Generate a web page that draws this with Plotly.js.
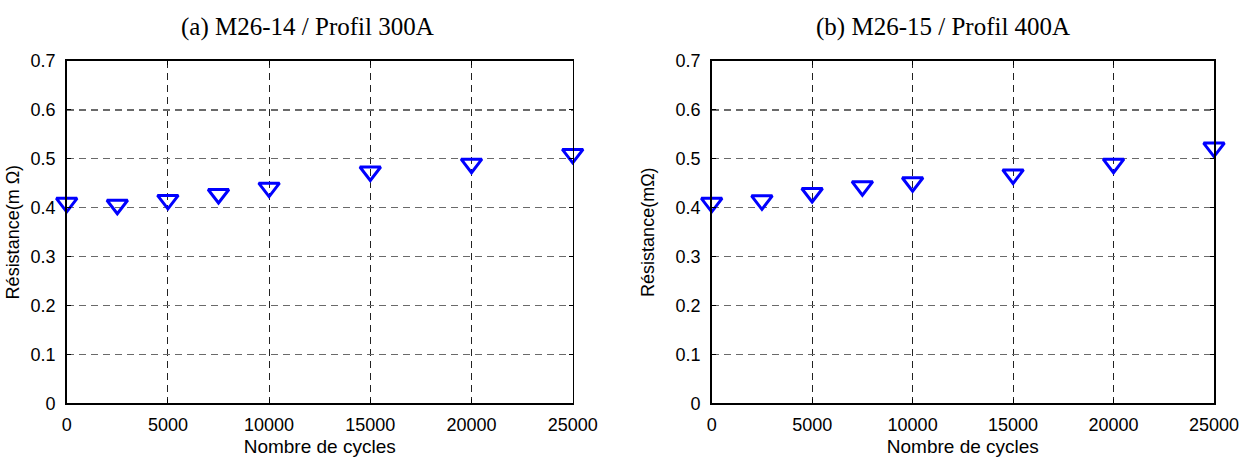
<!DOCTYPE html>
<html>
<head>
<meta charset="utf-8">
<script src="https://cdn.plot.ly/plotly-3.0.1.min.js"></script>
<style>html,body{margin:0;padding:0;background:#fff;}#chart{width:1245px;height:457px;}</style>
</head>
<body>
<div id="chart"></div>
<script>
// Data
const cycles = [0, 2500, 5000, 7500, 10000, 15000, 20000, 25000];
const resistanceA = [0.410, 0.406, 0.416, 0.428, 0.441, 0.474, 0.490, 0.510];
const resistanceB = [0.410, 0.415, 0.430, 0.444, 0.452, 0.468, 0.490, 0.523];
const titleA = "(a) M26-14 / Profil 300A";
const titleB = "(b) M26-15 / Profil 400A";
const yTitleA = "Résistance(m Ω)";
const yTitleB = "Résistance(mΩ)";
const xTitle = "Nombre de cycles";
const xTicks = [0, 5000, 10000, 15000, 20000, 25000];
const yTicks = [0, 0.1, 0.2, 0.3, 0.4, 0.5, 0.6, 0.7];

const W = 1245, H = 457;
const sans = "Liberation Sans, Arial, sans-serif";
const serif = "Liberation Serif, Times New Roman, serif";

function markerTrace(y, xa, ya) {
  return {
    x: cycles, y: y, xaxis: xa, yaxis: ya,
    type: "scatter", mode: "markers", cliponaxis: false,
    marker: {symbol: "triangle-down-open", size: 18, color: "#0000ff",
             line: {width: 3, color: "#0000ff"}},
    showlegend: false, hoverinfo: "x+y"
  };
}

function xAxis(domain, anchor) {
  return {
    domain: domain, anchor: anchor, range: [0, 25000],
    tickvals: xTicks, ticktext: xTicks.map(String),
    showline: true, linecolor: "#000", linewidth: 1.6, mirror: "ticks",
    ticks: "inside", ticklen: 4, tickcolor: "#000", tickwidth: 1,
    showgrid: true, gridcolor: "#222", gridwidth: 1, griddash: "7px,5px",
    zeroline: false, ticklabelstandoff: 4,
    tickfont: {family: sans, size: 18, color: "#000"},
    title: {text: xTitle, font: {family: sans, size: 19, color: "#000"}, standoff: 6}
  };
}
function yAxis(domain, anchor, title, standoff) {
  return {
    domain: domain, anchor: anchor, range: [0, 0.7],
    tickvals: yTicks, ticktext: yTicks.map(String),
    showline: true, linecolor: "#000", linewidth: 1.6, mirror: "ticks",
    ticks: "inside", ticklen: 4, tickcolor: "#000", tickwidth: 1,
    showgrid: true, gridcolor: "#6a6a6a", gridwidth: 1.2, griddash: "7px,5px",
    zeroline: false, ticklabelstandoff: 6,
    tickfont: {family: sans, size: 18, color: "#000"},
    title: {text: title, font: {family: sans, size: 18, color: "#000"}, standoff: standoff}
  };
}

const xA0 = 66.7 / W, xA1 = 572.7 / W;
const xB0 = 711.7 / W, xB1 = 1214 / W;
const yD = [(H - 403.3) / H, (H - 61) / H];

const layout = {
  width: W, height: H,
  margin: {l: 0, r: 0, t: 0, b: 0},
  paper_bgcolor: "#fff", plot_bgcolor: "#fff",
  xaxis: xAxis([xA0, xA1], "y"),
  yaxis: yAxis(yD, "x", yTitleA, 6),
  xaxis2: xAxis([xB0, xB1], "y2"),
  yaxis2: yAxis(yD, "x2", yTitleB, 16),
  annotations: [
    {text: titleA, xref: "paper", yref: "paper", x: 307 / W, y: (H - 27) / H,
     xanchor: "center", yanchor: "middle", showarrow: false,
     font: {family: serif, size: 25, color: "#000"}},
    {text: titleB, xref: "paper", yref: "paper", x: 943 / W, y: (H - 27) / H,
     xanchor: "center", yanchor: "middle", showarrow: false,
     font: {family: serif, size: 25, color: "#000"}}
  ]
};

Plotly.newPlot("chart", [markerTrace(resistanceA, "x", "y"), markerTrace(resistanceB, "x2", "y2")],
  layout, {staticPlot: true, displayModeBar: false});
</script>
</body>
</html>
